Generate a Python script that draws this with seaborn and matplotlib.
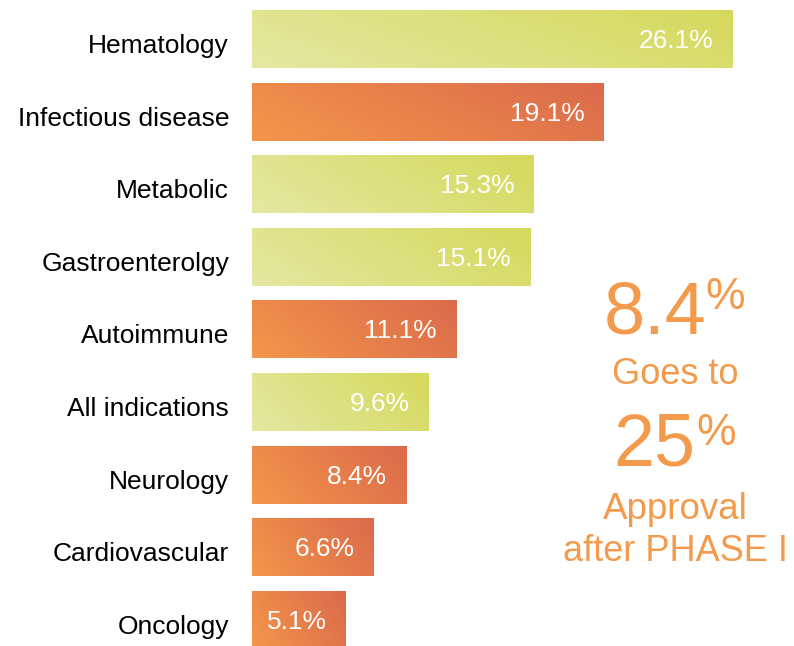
import numpy as np
import pandas as pd
import seaborn as sns
import matplotlib.pyplot as plt
from matplotlib.colors import LinearSegmentedColormap

categories = ['Hematology', 'Infectious disease', 'Metabolic', 'Gastroenterolgy',
              'Autoimmune', 'All indications', 'Neurology', 'Cardiovascular', 'Oncology']
values = [26.1, 19.1, 15.3, 15.1, 11.1, 9.6, 8.4, 6.6, 5.1]
groups = ['light', 'dark', 'light', 'light', 'dark', 'light', 'dark', 'dark', 'dark']

df = pd.DataFrame({'Indication': categories, 'Rate': values, 'Group': groups})

sns.set_style('white')
plt.rcParams['font.family'] = ['Liberation Sans', 'DejaVu Sans']

gradients = {
    'light': LinearSegmentedColormap.from_list('light', ['#e4e8a2', '#d5d95b']),
    'dark': LinearSegmentedColormap.from_list('dark', ['#f4964a', '#db6a4c']),
}
base = {'light': '#dde07a', 'dark': '#e8804a'}

fig = plt.figure(figsize=(7.94, 6.46), dpi=100)
ax = fig.add_axes([252 / 794, 0, 542 / 794, 1])

sns.barplot(data=df, y='Indication', x='Rate', hue='Group', palette=base,
            dodge=False, width=0.8, legend=False, ax=ax)

# per-bar diagonal gradient, clipped to each bar
gx, gy = np.meshgrid(np.linspace(0, 1, 200), np.linspace(0, 1, 50))
grad = 0.75 * gx + 0.25 * gy
for patch in ax.patches:
    x0, y0 = patch.get_x(), patch.get_y()
    w, h = patch.get_width(), patch.get_height()
    if w == 0 or np.isnan(w):
        continue
    fc = patch.get_facecolor()
    key = 'light' if fc[1] > 0.8 else 'dark'
    im = ax.imshow(grad, cmap=gradients[key], extent=(x0, x0 + w, y0 + h, y0),
                   aspect='auto', origin='lower', zorder=2, interpolation='bilinear')
    im.set_clip_path(patch)
    patch.set_facecolor('none')
    patch.set_edgecolor('none')

for i, v in enumerate(values):
    ax.annotate(f'{v}%', xy=(v, i), xytext=(-14, -1.5), textcoords='offset points',
                ha='right', va='center', color='white', fontsize=19, zorder=3)

# category labels, drawn as text so they can sit a little lower like the original
for i, c in enumerate(categories):
    ax.annotate(c, xy=(0, i), xycoords=('axes fraction', 'data'),
                xytext=(-16.5, -3.2), textcoords='offset points',
                ha='right', va='center_baseline', color='black', fontsize=19,
                annotation_clip=False)

ax.set_xlim(0, 29.41)
ax.set_ylim(8.361, -0.537)
ax.set_xlabel('')
ax.set_ylabel('')
ax.set_xticks([])
ax.set_yticks([])
sns.despine(ax=ax, left=True, bottom=True)

orange = '#f39a4c'
H = 646.0
def ftext(x, y, s, size, ha='center'):
    fig.text(x / 794, 1 - y / H, s, fontsize=size, color=orange, ha=ha, va='baseline')

ftext(706, 333, '8.4', 53, ha='right')
ftext(705, 309, '%', 32, ha='left')
ftext(675, 384, 'Goes to', 26)
ftext(695, 466, '25', 53, ha='right')
ftext(696, 445, '%', 32, ha='left')
ftext(675, 519, 'Approval', 26.5)
ftext(675, 561, 'after PHASE I', 26)

fig.savefig('out.png', dpi=100)
